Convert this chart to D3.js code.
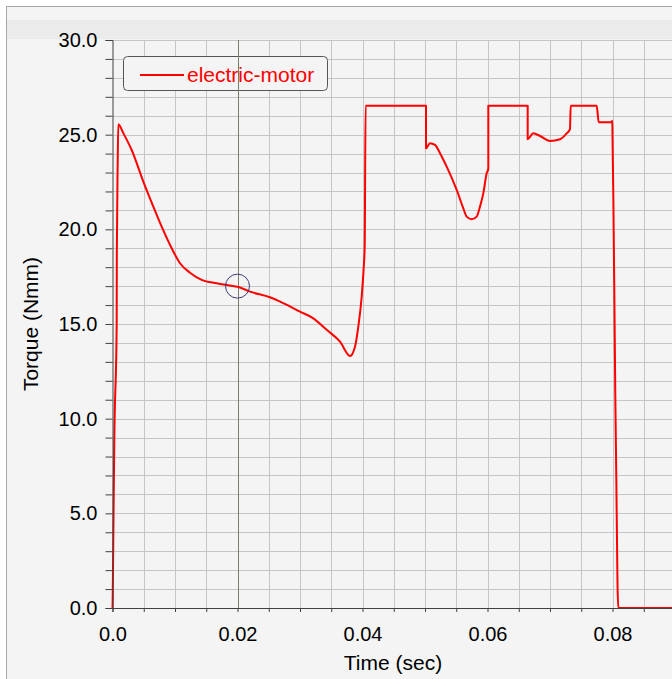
<!DOCTYPE html>
<html>
<head>
<meta charset="utf-8">
<script src="https://cdn.jsdelivr.net/npm/d3@7"></script>
<style>
    body { margin: 0; background: #ffffff; }
    text { font-family: "Liberation Sans", Arial, sans-serif; }
</style>
</head>
<body>
<div id="chart"></div>
<script>
// series: time (sec) and torque (Nmm)
const seriesName = "electric-motor";
const time = [
    0, 0.00003, 0.00013, 0.00029, 0.00067, 0.00069, 0.00083, 0.00093,
    0.00173, 0.00307, 0.00493, 0.00653, 0.00787, 0.00947, 0.0108, 0.0124,
    0.01427, 0.01667, 0.0188, 0.02, 0.022, 0.0252, 0.02733, 0.03,
    0.03213, 0.03427, 0.0364, 0.038, 0.0388, 0.03933, 0.03987, 0.04017,
    0.04035, 0.0405, 0.05016, 0.05016, 0.0508, 0.0516, 0.0524, 0.05347,
    0.05507, 0.05613, 0.05667, 0.05747, 0.05827, 0.0588, 0.05933, 0.05987,
    0.06013, 0.06013, 0.06643, 0.06643, 0.06733, 0.0684, 0.07, 0.0716,
    0.07267, 0.0732, 0.07331, 0.07747, 0.07779, 0.07985, 0.07997, 0.08,
    0.08013, 0.08029, 0.08045, 0.08061, 0.08077, 0.0808, 0.08093, 0.1
];
const torque = [
    0, 0.5, 3.7, 8.9, 15.0, 18.6, 23.5, 25.55,
    25.08, 24.19, 22.52, 21.2, 20.14, 19.0, 18.21, 17.71,
    17.33, 17.15, 17.03, 16.97, 16.71, 16.41, 16.1, 15.65,
    15.3, 14.69, 14.07, 13.31, 13.8, 14.86, 16.45, 17.86,
    19.1, 26.53, 26.53, 24.28, 24.55, 24.46, 24.02, 23.31,
    22.08, 21.11, 20.67, 20.53, 20.67, 21.2, 21.9, 22.96,
    23.2, 26.53, 26.53, 24.76, 25.07, 24.93, 24.67, 24.76,
    25.07, 25.29, 26.53, 26.53, 25.66, 25.66, 25.74, 24.9,
    21.8, 16.7, 11.2, 6.8, 2.1, 1.3, 0, 0
];
const xTicks = d3.range(0, 0.1001, 0.005);
const xLabels = [0, 0.02, 0.04, 0.06, 0.08];
const yTicks = d3.range(0, 31, 1);
const yLabels = [0, 5, 10, 15, 20, 25, 30];
const cursorTime = 0.02;
const cursorTorque = 17.0;

const W = 672, H = 679;
const margin = { top: 40, left: 112.5, bottom: 71 };

const svg = d3.select("#chart")
    .append("svg")
    .attr("width", W)
    .attr("height", H);

// panel
svg.append("rect")
    .attr("x", 6.5).attr("y", 6.5)
    .attr("width", W).attr("height", H)
    .attr("fill", "#f4f4f4")
    .attr("stroke", "#a8a8a8");

svg.append("rect")
    .attr("x", 7).attr("y", 20)
    .attr("width", W).attr("height", 19)
    .attr("fill", "#ebebeb");

const x = d3.scaleLinear().domain([0, 0.1]).range([margin.left, margin.left + 625]);
const y = d3.scaleLinear().domain([0, 30]).range([H - margin.bottom, margin.top]);

const data = time.map((t, i) => ({ t: t, v: torque[i] }));

// grid
const grid = svg.append("g").attr("stroke", "#c6c6c6").attr("stroke-width", 1);
grid.selectAll(".hg")
    .data(yTicks.filter(d => d > 0))
    .enter().append("line")
    .attr("x1", margin.left).attr("x2", W)
    .attr("y1", d => Math.round(y(d)) + 0.5)
    .attr("y2", d => Math.round(y(d)) + 0.5);
grid.selectAll(".vg")
    .data(xTicks.filter(d => d > 0))
    .enter().append("line")
    .attr("x1", d => Math.round(x(d)) + 0.5)
    .attr("x2", d => Math.round(x(d)) + 0.5)
    .attr("y1", margin.top).attr("y2", y(0));

// legend box (covers grid)
const legend = svg.append("g");
legend.append("rect")
    .attr("x", 123.5).attr("y", 56.5)
    .attr("width", 204).attr("height", 34)
    .attr("rx", 4)
    .attr("fill", "#f4f4f4")
    .attr("stroke", "#555555");
legend.append("line")
    .attr("x1", 140).attr("x2", 184)
    .attr("y1", 75).attr("y2", 75)
    .attr("stroke", "#ff0000")
    .attr("stroke-width", 2);
legend.append("text")
    .attr("x", 187).attr("y", 82)
    .attr("fill", "#ff0000")
    .style("font-size", "21px")
    .text(seriesName);

// cursor line
svg.append("line")
    .attr("x1", Math.round(x(cursorTime)) + 0.5)
    .attr("x2", Math.round(x(cursorTime)) + 0.5)
    .attr("y1", margin.top).attr("y2", y(0))
    .attr("stroke", "#7b7d6c");

// series
const line = d3.line()
    .x(d => x(d.t))
    .y(d => y(d.v))
    .curve(d3.curveMonotoneX);

svg.append("path")
    .datum(data)
    .attr("d", line)
    .attr("fill", "none")
    .attr("stroke", "#ff0000")
    .attr("stroke-width", 2)
    .attr("stroke-linejoin", "round");

svg.append("circle")
    .attr("cx", x(cursorTime))
    .attr("cy", y(cursorTorque))
    .attr("r", 12)
    .attr("fill", "none")
    .attr("stroke", "#3c3c78")
    .attr("stroke-width", 1);

// axes
const xAxis = svg.append("g")
    .attr("transform", `translate(0,${y(0)})`)
    .call(d3.axisBottom(x)
        .tickValues(xTicks)
        .tickSize(4)
        .tickPadding(15)
        .tickFormat(d => xLabels.some(v => Math.abs(v - d) < 1e-9) ? (d === 0 ? "0.0" : d3.format(".2f")(d)) : ""));

const yAxis = svg.append("g")
    .attr("transform", `translate(${margin.left},0)`)
    .call(d3.axisLeft(y)
        .tickValues(yTicks)
        .tickSize(7)
        .tickPadding(8)
        .tickFormat(d => yLabels.includes(d) ? d3.format(".1f")(d) : ""));

[xAxis, yAxis].forEach(a => {
    a.select(".domain").attr("stroke", "#404040");
    a.selectAll(".tick line").attr("stroke", "#404040");
    a.selectAll("text")
        .attr("fill", "#000000")
        .style("font-size", "20px")
        .style("font-family", "'Liberation Sans', Arial, sans-serif");
});

svg.append("text")
    .attr("x", 393)
    .attr("y", 670)
    .attr("text-anchor", "middle")
    .style("font-size", "21px")
    .text("Time (sec)");

svg.append("text")
    .attr("transform", "translate(38,324) rotate(-90)")
    .attr("text-anchor", "middle")
    .style("font-size", "21px")
    .text("Torque (Nmm)");
</script>
</body>
</html>
